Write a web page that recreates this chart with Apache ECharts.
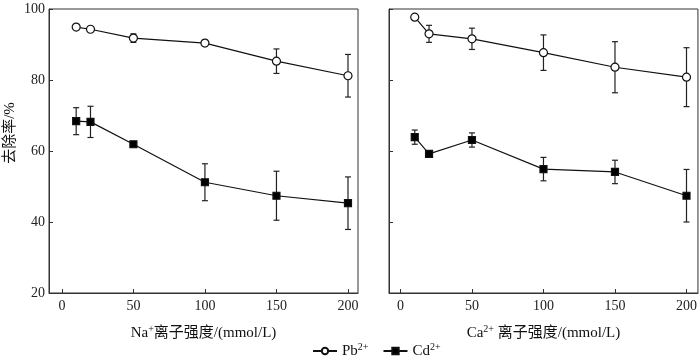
<!DOCTYPE html>
<html><head><meta charset="utf-8">
<script src="https://cdn.jsdelivr.net/npm/echarts@6/dist/echarts.min.js"></script>
<style>html,body{margin:0;padding:0;background:#fff}#c{width:700px;height:362px}</style>
</head><body><div id="c"></div>
<script>
const xVals = [10, 20, 50, 100, 150, 200];
const xTicks = [0, 50, 100, 150, 200];
const naPb = [94.9, 94.3, 91.8, 90.4, 85.3, 81.2];
const naPbErr = [0.4, 0.4, 1.2, 0.8, 3.45, 6.0];
const naCd = [68.4, 68.2, 61.9, 51.2, 47.4, 45.3];
const naCdErr = [3.8, 4.4, 0.7, 5.2, 6.9, 7.4];
const caPb = [97.7, 93.0, 91.6, 87.7, 83.6, 80.8];
const caPbErr = [0.3, 2.4, 3.0, 5.0, 7.2, 8.3];
const caCd = [63.9, 59.2, 63.1, 54.9, 54.1, 47.4];
const caCdErr = [2.0, 0.8, 2.0, 3.3, 3.3, 7.4];
const yTitle = '去除率/%';

const FONT = "'Times New Roman','Liberation Serif','Noto Sans CJK SC',serif";
const chart = echarts.init(document.getElementById('c'));

function pts(v) { return xVals.map((x, i) => [x, v[i]]); }
function errs(v, e) { return xVals.map((x, i) => [x, v[i] - e[i], v[i] + e[i]]); }

function errRender(params, api) {
  const x = api.value(0), lo = api.value(1), hi = api.value(2);
  const p1 = api.coord([x, lo]), p2 = api.coord([x, hi]);
  const w = 3, st = {stroke: '#222', lineWidth: 1.2};
  return {type: 'group', children: [
    {type: 'line', shape: {x1: p1[0], y1: p1[1], x2: p2[0], y2: p2[1]}, style: st},
    {type: 'line', shape: {x1: p1[0] - w, y1: p1[1], x2: p1[0] + w, y2: p1[1]}, style: st},
    {type: 'line', shape: {x1: p2[0] - w, y1: p2[1], x2: p2[0] + w, y2: p2[1]}, style: st}
  ]};
}

const rich = {
  a: {fontFamily: FONT, fontSize: 15, color: '#111'},
  sup: {fontFamily: FONT, fontSize: 10, color: '#111', verticalAlign: 'top', padding: [0, 0, 8, 0]},
  b: {fontFamily: FONT, fontSize: 15, color: '#111'}
};

function xAxis(gi, min, max, name) {
  return {
    type: 'value', gridIndex: gi, min: min, max: max,
    axisLine: {show: true, onZero: false, lineStyle: {color: '#333', width: 1}},
    axisTick: {show: true, inside: true, length: 4, customValues: xTicks, lineStyle: {color: '#333'}},
    axisLabel: {customValues: xTicks, fontFamily: FONT, fontSize: 14, color: '#222', margin: 6},
    splitLine: {show: false},
    name: name, nameLocation: 'middle', nameGap: 31,
    nameTextStyle: {rich: rich}
  };
}
function yAxis(gi, showLabel) {
  return {
    type: 'value', gridIndex: gi, min: 20, max: 100, interval: 20,
    axisLine: {show: true, onZero: false, lineStyle: {color: '#333', width: 1}},
    axisTick: {show: true, inside: true, length: 4, lineStyle: {color: '#333'}},
    axisLabel: {show: showLabel, fontFamily: FONT, fontSize: 14, color: '#222', margin: 4},
    splitLine: {show: false}
  };
}

function lineSeries(name, gi, data, symbol, size, fill) {
  return {
    name: name, type: 'line', xAxisIndex: gi, yAxisIndex: gi, data: data,
    symbol: symbol, symbolSize: size, showAllSymbol: true,
    lineStyle: {color: '#111', width: 1.2},
    itemStyle: {color: fill, borderColor: '#111', borderWidth: 1.2},
    z: 3, animation: false
  };
}
function errSeries(gi, data) {
  return {type: 'custom', xAxisIndex: gi, yAxisIndex: gi, data: data,
    renderItem: errRender, encode: {x: 0, y: [1, 2]}, z: 2, animation: false, silent: true};
}

chart.setOption({
  backgroundColor: '#fff',
  animation: false,
  grid: [
    {left: 49, right: 342, top: 9, bottom: 69, show: true, borderColor: '#333', borderWidth: 1},
    {left: 389, right: 1, top: 9, bottom: 69, show: true, borderColor: '#333', borderWidth: 1}
  ],
  xAxis: [
    xAxis(0, -9, 207, '{a|Na}{sup|+}{b|离子强度/(mmol/L)}'),
    xAxis(1, -8, 208, '{a|Ca}{sup|2+}{b| 离子强度/(mmol/L)}')
  ],
  yAxis: [yAxis(0, true), yAxis(1, false)],
  graphic: [{
    type: 'text', x: 10, y: 133, rotation: Math.PI / 2,
    style: {text: yTitle, fontFamily: FONT, fontSize: 15, fill: '#111', align: 'center', verticalAlign: 'middle'}
  }],
  legend: {
    data: ['Pb', 'Cd'], left: 307, top: 337, itemWidth: 24, itemHeight: 8, itemGap: 14,
    formatter: n => n === 'Pb' ? '{a|Pb}{sup|2+}' : '{a|Cd}{sup|2+}',
    textStyle: {rich: rich}
  },
  series: [
    errSeries(0, errs(naPb, naPbErr)),
    errSeries(0, errs(naCd, naCdErr)),
    errSeries(1, errs(caPb, caPbErr)),
    errSeries(1, errs(caCd, caCdErr)),
    lineSeries('Pb', 0, pts(naPb), 'circle', 8, '#fff'),
    lineSeries('Cd', 0, pts(naCd), 'rect', 7, '#000'),
    lineSeries('Pb', 1, pts(caPb), 'circle', 8, '#fff'),
    lineSeries('Cd', 1, pts(caCd), 'rect', 7, '#000')
  ]
});
</script></body></html>
